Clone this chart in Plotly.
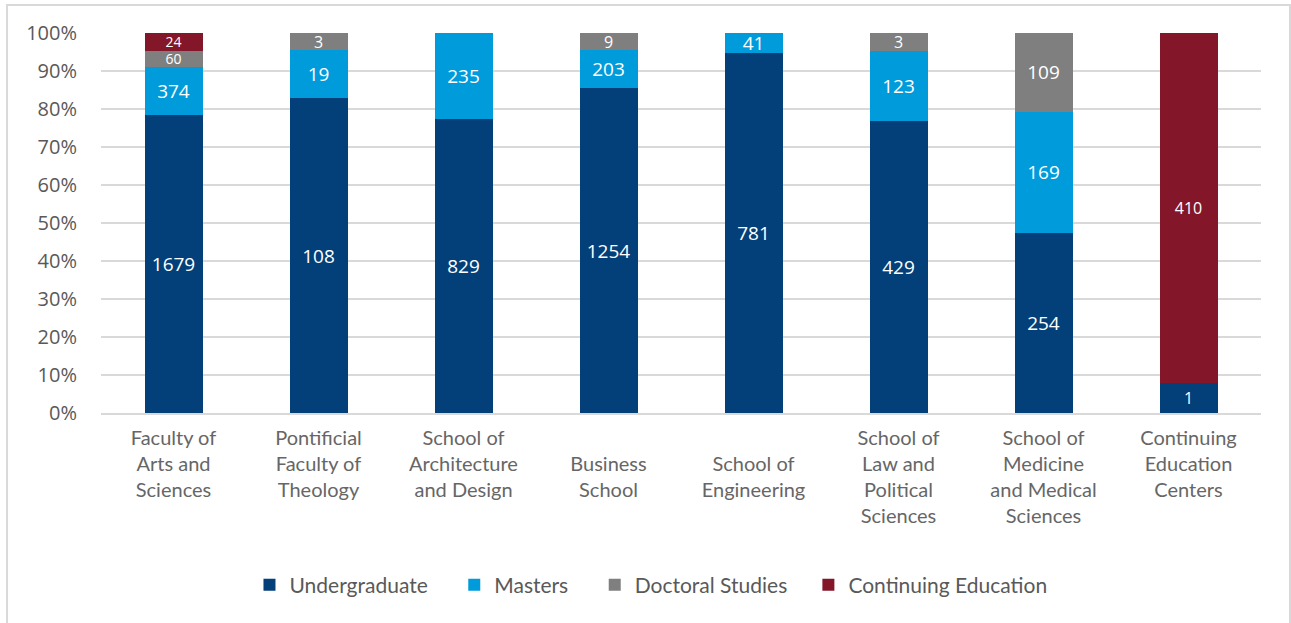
import plotly.graph_objects as go

categories = [
    "Faculty of<br>Arts and<br>Sciences",
    "Pontificial<br>Faculty of<br>Theology",
    "School of<br>Architecture<br>and Design",
    "<br>Business<br>School",
    "<br>School of<br>Engineering",
    "School of<br>Law and<br>Political<br>Sciences",
    "School of<br>Medicine<br>and Medical<br>Sciences",
    "Continuing<br>Education<br>Centers",
]

series_names = ["Undergraduate", "Masters", "Doctoral Studies", "Continuing Education"]

# Counts shown as data labels
undergrad_labels = ["1679", "108", "829", "1254", "781", "429", "254", "1"]
masters_labels = ["374", "19", "235", "203", "41", "123", "169", ""]
doctoral_labels = ["60", "3", "", "9", "", "3", "109", ""]
conted_labels = ["24", "", "", "", "", "", "", "410"]

# Segment heights as drawn in the chart (% of each bar)
undergrad = [78.3, 82.8, 77.5, 85.4, 94.8, 76.9, 47.5, 8.0]
masters = [12.8, 12.7, 22.5, 10.1, 5.2, 18.4, 31.8, 0]
doctoral = [4.2, 4.5, 0, 4.5, 0, 4.7, 20.7, 0]
conted = [4.7, 0, 0, 0, 0, 0, 0, 92.0]

y_ticks = [0, 10, 20, 30, 40, 50, 60, 70, 80, 90, 100]

BIG, SMALL, TINY = 19, 16, 14
NB = "\u00a0"
legend_pad = [4, 4, 3, 0]
colors = ["#033f78", "#009bdb", "#7f7f7f", "#84162a"]
values = [undergrad, masters, doctoral, conted]
labels = [undergrad_labels, masters_labels, doctoral_labels, conted_labels]
sizes = [
    [BIG, BIG, BIG, BIG, BIG, BIG, BIG, SMALL],
    [BIG] * 8,
    [TINY, SMALL, BIG, SMALL, BIG, SMALL, BIG, BIG],
    [TINY, BIG, BIG, BIG, BIG, BIG, BIG, SMALL],
]

fig = go.Figure()
for name, vals, labs, color, sz, pad in zip(series_names, values, labels, colors, sizes, legend_pad):
    fig.add_trace(go.Bar(
        name=name + NB * pad,
        x=categories,
        y=vals,
        text=labs,
        texttemplate="%{text}",
        textposition="inside",
        insidetextanchor="middle",
        constraintext="none",
        textangle=0,
        textfont=dict(family="Open Sans, sans-serif", color="white", size=sz),
        marker=dict(color=color, line=dict(width=0)),
        hoverinfo="skip",
    ))

fig.update_layout(
    barmode="stack",
    barnorm="percent",
    bargap=0.6,
    width=1291,
    height=623,
    margin=dict(l=101, r=30, t=33, b=210),
    paper_bgcolor="white",
    plot_bgcolor="white",
    showlegend=True,
    legend=dict(
        orientation="h",
        x=0.128, xanchor="left",
        y=-0.453, yanchor="middle",
        font=dict(family="Lato, sans-serif", size=21, color="#595959"),
        traceorder="normal",
    ),
    uniformtext=dict(mode=False),
    shapes=[dict(
        type="rect", xref="paper", yref="paper",
        x0=-0.081, x1=1.025, y0=-0.62, y1=1.074,
        line=dict(color="#d9d9d9", width=2),
        fillcolor="rgba(0,0,0,0)",
        layer="below",
    )],
)

fig.update_yaxes(
    range=[0, 100],
    tickvals=y_ticks,
    ticktext=[f"{v}%" for v in y_ticks],
    showgrid=True,
    gridcolor="#d9d9d9",
    gridwidth=1.5,
    zeroline=False,
    showline=False,
    ticks="",
    ticklabelstandoff=23,
    tickfont=dict(family="Open Sans, sans-serif", size=20, color="#595959"),
    fixedrange=True,
)
fig.update_xaxes(
    showline=True,
    linecolor="#d9d9d9",
    linewidth=2,
    ticks="",
    ticklabelstandoff=6,
    tickfont=dict(family="Lato, sans-serif", size=20, color="#666666"),
    tickangle=0,
    fixedrange=True,
)

fig.write_html(
    "out.html",
    config={"displayModeBar": False},
    post_script="document.body.style.margin='0px';",
)
